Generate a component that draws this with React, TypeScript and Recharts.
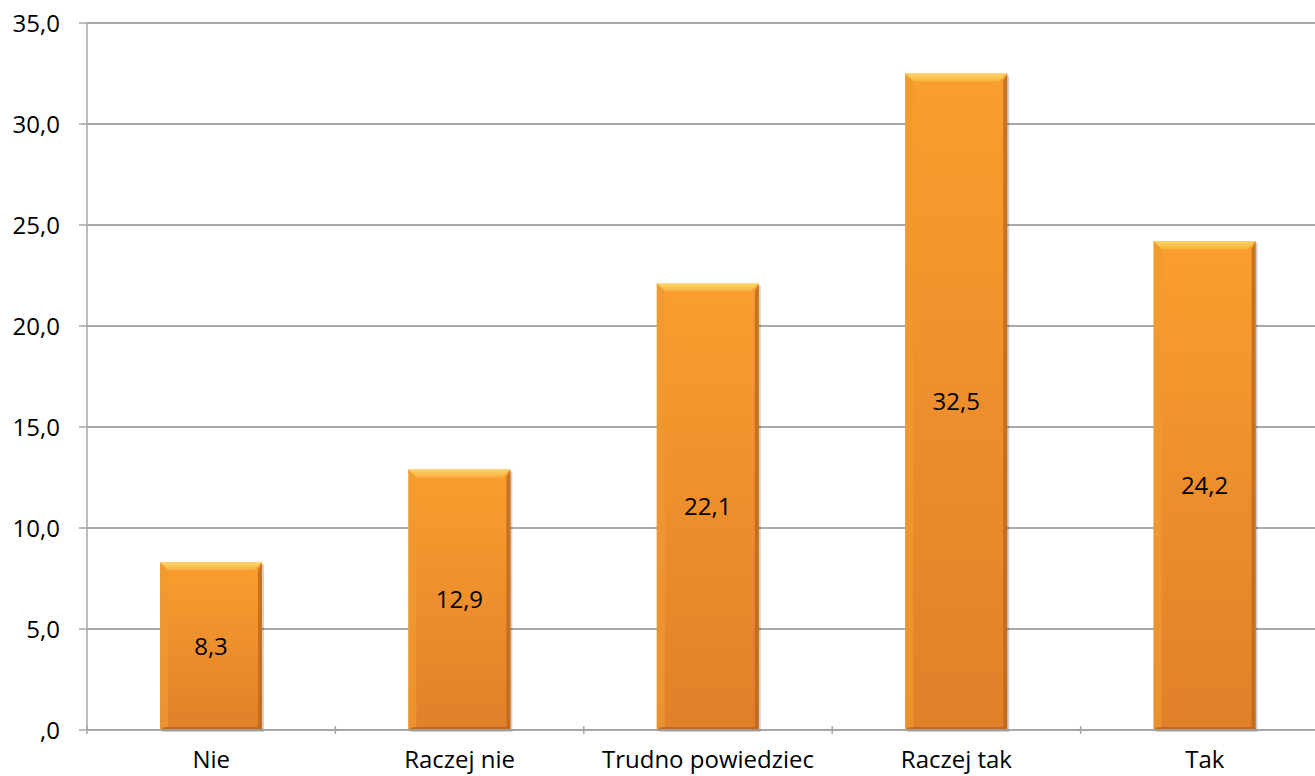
import { BarChart, Bar, XAxis, YAxis, CartesianGrid, LabelList } from "recharts"

const categories = ["Nie", "Raczej nie", "Trudno powiedziec", "Raczej tak", "Tak"]
const values = [8.3, 12.9, 22.1, 32.5, 24.2]
const yTicks = [0, 5, 10, 15, 20, 25, 30, 35]

const data = categories.map((name, i) => ({ name, value: values[i] }))

const fmt = (v: number) => {
  const s = v.toFixed(1).replace(".", ",")
  return s.startsWith("0,") ? s.slice(1) : s
}

const font = "'Open Sans', sans-serif"
const axisGray = "#a6a6a6"
// plot runs past the right edge of the page, like the original export
const chartW = 1329
const band = (chartW - 87) / categories.length

// category label plus Excel-style tick marks on the band edges
function CatTick(props: any) {
  const { x, y, payload, index } = props
  const y0 = y - 12
  return (
    <g>
      <line x1={x - band / 2} x2={x - band / 2} y1={y0} y2={y0 + 8} stroke={axisGray} strokeWidth={1.5} />
      {index === categories.length - 1 && (
        <line x1={x + band / 2} x2={x + band / 2} y1={y0} y2={y0 + 8} stroke={axisGray} strokeWidth={1.5} />
      )}
      <text x={x} y={y0 + 42} textAnchor="middle" fill="#000" fontSize={24} fontFamily={font}>
        {payload.value}
      </text>
    </g>
  )
}

// bevelled orange bar, a la Excel
function BevelBar(props: any) {
  const { x, y, width, height } = props
  if (!height || height <= 0) return null
  const b = 8
  return (
    <g>
      <rect x={x + 2} y={y + 2} width={width} height={height} fill="rgba(0,0,0,0.18)" />
      <rect x={x} y={y} width={width} height={height} fill="url(#barBody)" />
      <polygon
        points={`${x},${y} ${x + width},${y} ${x + width - b},${y + b} ${x + b},${y + b}`}
        fill="url(#barTop)"
      />
      <polygon
        points={`${x},${y} ${x + b},${y + b} ${x + b},${y + height - 3} ${x},${y + height}`}
        fill="#f09a32"
        opacity={0.7}
      />
      <polygon
        points={`${x + width},${y} ${x + width},${y + height} ${x + width - 4},${y + height - 3} ${x + width - 4},${y + b}`}
        fill="#b8661c"
        opacity={0.75}
      />
      <polygon
        points={`${x},${y + height} ${x + width},${y + height} ${x + width - 4},${y + height - 3} ${x + 4},${y + height - 3}`}
        fill="#a85c18"
        opacity={0.6}
      />
    </g>
  )
}

export default function App() {
  return (
    <div style={{ position: "absolute", left: 0, top: 0, width: 1315, height: 776, overflow: "hidden", background: "#fff" }}>
      <BarChart
        width={chartW}
        height={776}
        data={data}
        margin={{ top: 23, right: 0, left: 0, bottom: 0 }}
        barSize={102}
      >
        <defs>
          <linearGradient id="barBody" x1="0" y1="0" x2="0" y2="1">
            <stop offset="0%" stopColor="#fa9e2e" />
            <stop offset="100%" stopColor="#e0802a" />
          </linearGradient>
          <linearGradient id="barTop" x1="0" y1="0" x2="0" y2="1">
            <stop offset="0%" stopColor="#fcd76a" />
            <stop offset="100%" stopColor="#f8b040" />
          </linearGradient>
        </defs>
        <CartesianGrid vertical={false} stroke="#8c8c8c" strokeWidth={1.5} />
        <XAxis
          dataKey="name"
          interval={0}
          height={46}
          tickLine={false}
          axisLine={{ stroke: axisGray, strokeWidth: 1.5 }}
          tick={<CatTick />}
        />
        <YAxis
          width={87}
          domain={[0, 35]}
          ticks={yTicks}
          interval={0}
          tickFormatter={fmt}
          tickSize={8}
          tickLine={{ stroke: axisGray, strokeWidth: 1.5 }}
          axisLine={{ stroke: axisGray, strokeWidth: 1.5 }}
          tick={{ fill: "#000", fontSize: 24, fontFamily: font }}
          tickMargin={19}
        />
        <Bar dataKey="value" shape={<BevelBar />} isAnimationActive={false}>
          <LabelList
            dataKey="value"
            position="center"
            formatter={(v: any) => fmt(Number(v))}
            style={{ fill: "#000", fontSize: 24, fontFamily: font }}
          />
        </Bar>
      </BarChart>
    </div>
  )
}
